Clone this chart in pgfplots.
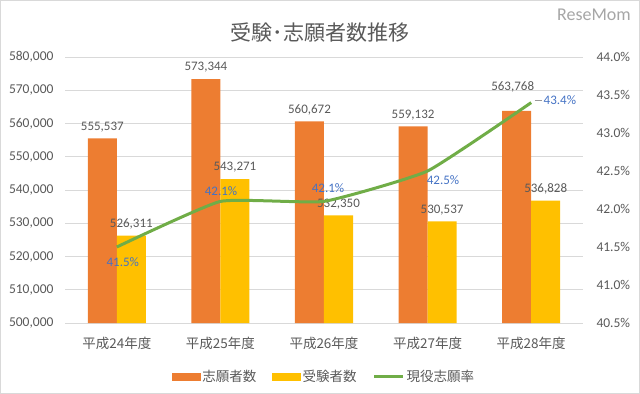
\documentclass[border=0pt]{standalone}
\usepackage{pgfplots}
\pgfplotsset{compat=1.18}
\usepackage{pgfplotstable}
\usepackage{fontspec}
\setmainfont{Carlito}
\newfontfamily\cjk{Noto Sans CJK JP}
\definecolor{cOrange}{HTML}{ED7D31}
\definecolor{cYellow}{HTML}{FFC000}
\definecolor{cGreen}{HTML}{70AD47}
\definecolor{cBlue}{HTML}{4472C4}
\definecolor{cText}{HTML}{595959}
\definecolor{cGrid}{HTML}{D9D9D9}

\pgfplotstableread{
x app exam
0 555537 526311
1 573344 543271
2 560672 532350
3 559132 530537
4 563768 536828
}\counts

\pgfplotstableread{
x rate
0 41.5
1 42.1
2 42.1
3 42.5
4 43.4
}\rates

\pgfplotsset{
  ratelabel/.style n args={3}{draw=none, mark=none, forget plot, point meta=y,
    nodes near coords={\pgfmathprintnumber[fixed,fixed zerofill,precision=1]{\pgfplotspointmeta}\%},
    every node near coord/.append style={anchor=#1, xshift=#2, yshift=#3,
      font=\fontsize{13bp}{15bp}\selectfont, text=cBlue}},
  countlabel/.style 2 args={draw=none, mark=none, forget plot, point meta=y,
    nodes near coords={\pgfmathprintnumber[fixed,precision=0,1000 sep={,}]{\pgfplotspointmeta}},
    every node near coord/.append style={anchor=south, xshift=#1, yshift=#2,
      font=\fontsize{13bp}{15bp}\selectfont, text=cText}},
}

\begin{document}
\begin{tikzpicture}
\path[use as bounding box] (0,0) rectangle (640bp,394bp);
\draw[cGrid, line width=0.8bp] (0.4bp,0.4bp) rectangle (639.6bp,393.6bp);
\node[font=\cjk\fontsize{21bp}{25bp}\selectfont, text=cText] at (320bp,361bp) {受験･志願者数推移};
\node[font=\fontsize{18bp}{20bp}\selectfont, text=black!35] at (594bp,379bp) {ReseMom};

\begin{axis}[
  at={(65bp,71bp)}, anchor=south west,
  scale only axis, width=518bp, height=266bp,
  xmin=-0.5, xmax=4.5, ymin=500000, ymax=580000,
  ytick={500000,510000,520000,530000,540000,550000,560000,570000,580000},
  axis line style={draw=none}, major tick length=0pt,
  ymajorgrids, grid style={cGrid, line width=0.8bp},
  xtick={0,1,2,3,4},
  xticklabels={平成24年度,平成25年度,平成26年度,平成27年度,平成28年度},
  xticklabel style={font=\cjk\fontsize{13.5bp}{16bp}\selectfont, text=cText, yshift=-11bp},
  yticklabel style={font=\fontsize{13.5bp}{16bp}\selectfont, text=cText, xshift=-8bp},
  /pgf/number format/assume math mode=true,
  scaled y ticks=false,
  yticklabel={\pgfmathprintnumber[fixed,precision=0,1000 sep={,}]{\tick}},
  legend style={at={(0.5,-0.203)}, anchor=center, draw=none, fill=none,
    legend columns=3, font=\cjk\fontsize{13.5bp}{16bp}\selectfont, text=cText,
    /tikz/every even column/.append style={column sep=14bp}},
  clip=false,
]
\addplot[ybar, bar width=29bp, bar shift=-14.5bp, fill=cOrange, draw=none, forget plot]
  table[x=x,y=app]{\counts};
\addplot[ybar, bar width=29bp, bar shift=14.5bp, fill=cYellow, draw=none, forget plot]
  table[x=x,y=exam]{\counts};
\addplot[countlabel={-14.5bp}{3bp}, restrict x to domain=0:3] table[x=x,y=app]{\counts};
\addplot[countlabel={-18.5bp}{15bp}, restrict x to domain=3.5:4.5] table[x=x,y=app]{\counts};
\addplot[countlabel={14.5bp}{3bp}] table[x=x,y=exam]{\counts};
\addlegendimage{legend image code/.code={\fill[cOrange] (0bp,-3.5bp) rectangle (28bp,3.5bp);}}
\addlegendimage{legend image code/.code={\fill[cYellow] (0bp,-3.5bp) rectangle (28bp,3.5bp);}}
\addlegendimage{legend image code/.code={\draw[cGreen, line width=3bp] (0bp,0bp) -- (29bp,0bp);}}
\legend{志願者数,受験者数,現役志願率}
\end{axis}

\begin{axis}[
  at={(65bp,71bp)}, anchor=south west,
  scale only axis, width=518bp, height=266bp,
  xmin=-0.5, xmax=4.5, ymin=40.5, ymax=44,
  ytick={40.5,41,41.5,42,42.5,43,43.5,44},
  axis x line=none, axis y line*=right,
  axis line style={draw=none}, major tick length=0pt,
  /pgf/number format/assume math mode=true,
  yticklabel={\pgfmathprintnumber[fixed,fixed zerofill,precision=1]{\tick}\%},
  yticklabel style={font=\fontsize{13.5bp}{16bp}\selectfont, text=cText, xshift=10bp},
  clip=false,
]
\addplot[cGreen, line width=3bp, smooth, tension=0.25, mark=none] table[x=x,y=rate]{\rates};
\addplot[ratelabel={center}{6bp}{-15bp}] coordinates {(0,41.5)};
\addplot[ratelabel={center}{0.6bp}{10.4bp}] coordinates {(1,42.1)};
\addplot[ratelabel={center}{4bp}{13.4bp}] coordinates {(2,42.1)};
\addplot[ratelabel={center}{15.4bp}{-9bp}] coordinates {(3,42.5)};
\addplot[draw=none, mark=none, forget plot, point meta=y,
  nodes near coords={{\color{black!40}\rule[0.3em]{7bp}{0.7bp}}\hspace{2bp}\pgfmathprintnumber[fixed,fixed zerofill,precision=1]{\pgfplotspointmeta}\%},
  every node near coord/.append style={anchor=west, xshift=0bp, yshift=2bp,
    font=\fontsize{13bp}{15bp}\selectfont, text=cBlue}] coordinates {(4,43.4)};
\end{axis}
\end{tikzpicture}
\end{document}
